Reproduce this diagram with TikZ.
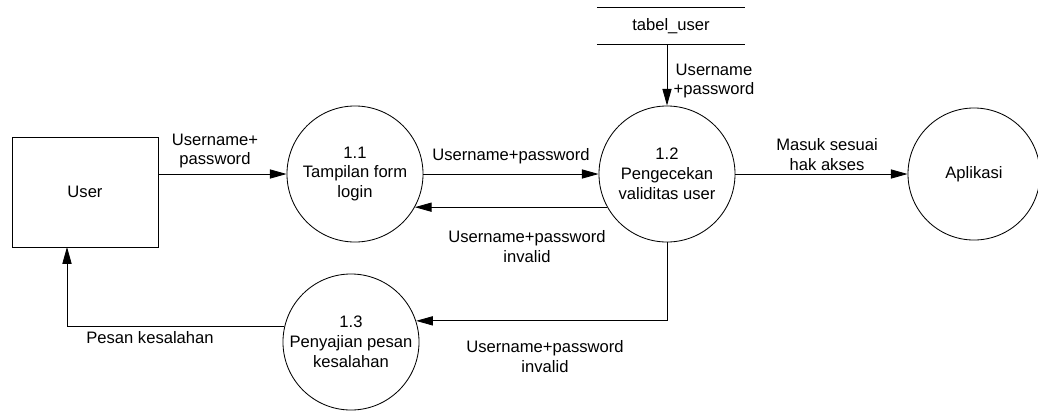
\documentclass[tikz,border=0pt]{standalone}
\usepackage{fontspec}
\setmainfont{Liberation Sans}
\usetikzlibrary{arrows.meta}

\tikzset{
  proc/.style={draw, circle, minimum size=3.4cm, inner sep=0pt, align=center},
  entity/.style={draw, rectangle, minimum width=3.65cm, minimum height=2.75cm},
  flow/.style={-{Triangle[length=4.2mm,width=2.3mm]}},
  lbl/.style={align=center, inner sep=0pt}
}

\begin{document}
\begin{tikzpicture}[x=0.025cm, y=-0.025cm, line width=0.6pt,
  font=\fontsize{11.8}{14.2}\selectfont]
\useasboundingbox (0,0) rectangle (1038,410);
\node[entity] (user) at (85,192) {User};
\node[proc] (login) at (355,174) {1.1\\Tampilan form\\login};
\node[proc] (cek) at (667,174) {1.2\\Pengecekan\\validitas user};
\node[proc] (pesan) at (351,342) {1.3\\Penyajian pesan\\kesalahan};
\node[proc, minimum size=3.3cm] (app) at (974,174) {Aplikasi};
\node[minimum width=3.68cm, minimum height=0.92cm] (tabel) at (671,26) {tabel\_user};
\draw (tabel.north west) -- (tabel.north east);
\draw (tabel.south west) -- (tabel.south east);
\coordinate (back) at (67,247);

\draw[flow] (user.east |- login.west) -- (login.west);
\draw[flow] (login.east) -- (cek.west);
\draw[flow] (cek.209) -- (login.331);
\draw[flow] (tabel.south -| cek.north) -- (cek.north);
\draw[flow] (cek.south) |- (pesan.18);
\draw[flow] (pesan.167) -| (back);
\draw[flow] (cek.east) -- (app.west);

\node[lbl] (l1) at (215,151) {Username+\\password};
\node[lbl] (l2) at (511,156) {Username+password};
\node[lbl] (l3) at (527,247) {Username+password\\invalid};
\node[lbl] (l4) at (714,81) {Username\\+password};
\node[lbl] (l5) at (150,338) {Pesan kesalahan};
\node[lbl] (l6) at (545,357) {Username+password\\invalid};
\node[lbl] (l7) at (827,155) {Masuk sesuai\\hak akses};
\end{tikzpicture}
\end{document}
